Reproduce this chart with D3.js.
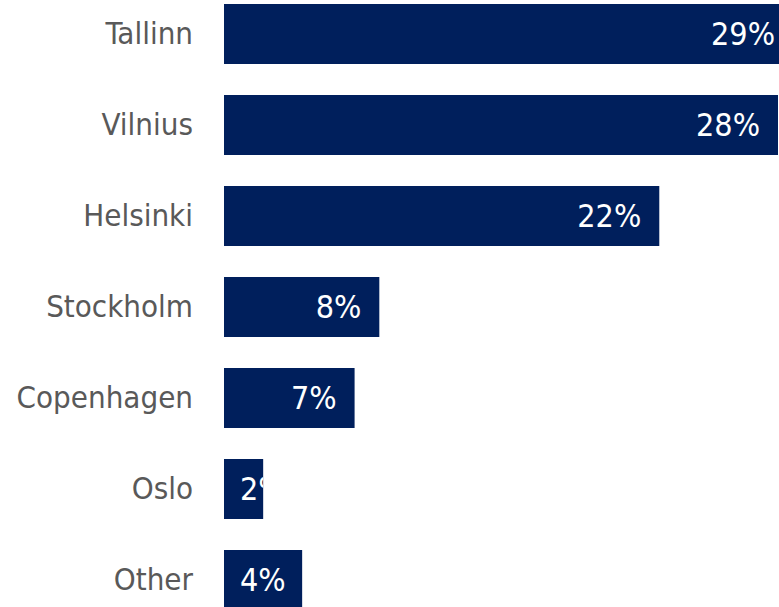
<!DOCTYPE html>
<html lang="en">
<head>
  <meta charset="UTF-8">
  <title>Share by city</title>
  <script src="https://d3js.org/d3.v7.min.js"></script>
  <style>
    body {
      margin: 0;
      background: #fff;
      font-family: "DejaVu Sans Condensed", "DejaVu Sans", sans-serif;
    }
    svg { display: block; }
  </style>
</head>
<body>
<div id="chart"></div>

<script>
  // data (share, %)
  const cities = ["Tallinn", "Vilnius", "Helsinki", "Stockholm", "Copenhagen", "Oslo", "Other"];
  const shares = [29, 28, 22, 7.85, 6.6, 1.98, 3.95];
  const labels = ["29%", "28%", "22%", "8%", "7%", "2%", "4%"];

  const width = 779;
  const height = 607;
  const left = 224;

  const data = cities.map((c, i) => ({ city: c, value: shares[i], label: labels[i] }));

  const x = d3.scaleLinear()
    .domain([0, 28])
    .range([left, left + 554]);

  const y = d3.scaleBand()
    .domain(cities)
    .range([4, 610])
    .paddingInner(0.3407)
    .paddingOuter(0);

  const svg = d3.select("#chart")
    .append("svg")
    .attr("width", width)
    .attr("height", height);

  // clip value labels to their own bar
  const defs = svg.append("defs");
  defs.selectAll("clipPath")
    .data(data)
    .join("clipPath")
    .attr("id", (d, i) => "clip" + i)
    .append("rect")
    .attr("x", x(0))
    .attr("y", d => y(d.city))
    .attr("width", d => x(d.value) - x(0))
    .attr("height", y.bandwidth());

  svg.append("g")
    .selectAll("rect")
    .data(data)
    .join("rect")
    .attr("x", x(0))
    .attr("y", d => y(d.city))
    .attr("width", d => x(d.value) - x(0))
    .attr("height", y.bandwidth())
    .attr("fill", "#001f5c");

  // category labels
  const axis = svg.append("g")
    .attr("transform", `translate(${left},0)`)
    .call(d3.axisLeft(y).tickSize(0).tickPadding(31));
  axis.select(".domain").remove();
  axis.selectAll("text")
    .attr("font-family", "'DejaVu Sans Condensed', 'DejaVu Sans', sans-serif")
    .attr("font-size", 31)
    .attr("fill", "#595959");

  // value labels, white, inside the bar end
  const pad = 18;
  svg.append("g")
    .selectAll("text")
    .data(data)
    .join("text")
    .attr("clip-path", (d, i) => `url(#clip${i})`)
    .attr("x", d => Math.min(x(d.value) - pad, width - 4))
    .attr("y", d => y(d.city) + y.bandwidth() / 2)
    .attr("dy", "0.35em")
    .attr("text-anchor", "end")
    .attr("font-size", 32)
    .attr("fill", "#fff")
    .text(d => d.label)
    .each(function(d) {
      // short bars: push the label right so it starts 16px into the bar
      const b = this.getBBox();
      if (b.x < x(0) + 16) {
        d3.select(this).attr("text-anchor", "start").attr("x", x(0) + 16);
      }
    });
</script>
</body>
</html>
